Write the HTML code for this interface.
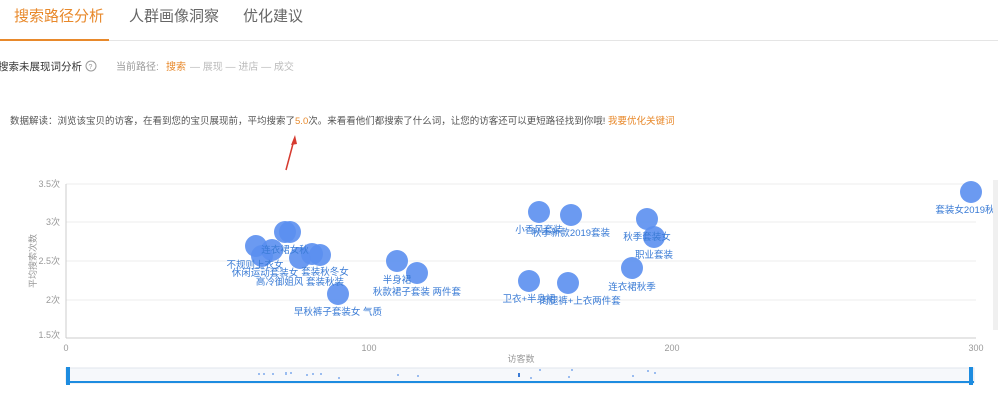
<!DOCTYPE html>
<html><head><meta charset="utf-8"><style>
body{margin:0;width:998px;height:400px;overflow:hidden;background:#fff;font-family:"Liberation Sans","Noto Sans CJK SC",sans-serif;}
</style></head><body>
<svg width="998" height="400" xmlns="http://www.w3.org/2000/svg" font-family="Liberation Sans, Noto Sans CJK SC, sans-serif">
<text x="14" y="21" font-size="15" fill="#e8892b">搜索路径分析</text>
<text x="129" y="21" font-size="15" fill="#666">人群画像洞察</text>
<text x="243" y="21" font-size="15" fill="#666">优化建议</text>
<rect x="0" y="39" width="109" height="2" fill="#e8892b"/>
<rect x="109" y="40" width="889" height="1" fill="#e5e5e5"/>
<text x="-2" y="70" font-size="10.5" fill="#333">搜索未展现词分析</text>
<circle cx="91" cy="66" r="5" fill="none" stroke="#999"/>
<text x="88.5" y="69" font-size="7" fill="#999">?</text>
<text x="116" y="70" font-size="10" fill="#999">当前路径:</text>
<text x="166" y="70" font-size="10" fill="#e8892b">搜索</text>
<text x="190" y="70" font-size="10" fill="#bbb">—  展现  —  进店  —  成交</text>
<text x="10" y="124" font-size="9.5" fill="#555">数据解读：浏览该宝贝的访客，在看到您的宝贝展现前，平均搜索了<tspan fill="#e8892b">5.0</tspan>次。来看看他们都搜索了什么词，让您的访客还可以更短路径找到你哦!   <tspan fill="#e8892b">我要优化关键词</tspan></text>
<path d="M286 170 L294 140" stroke="#d63a2f" stroke-width="1.5"/>
<path d="M295 135 L291 145 L297 144Z" fill="#d63a2f"/>
<g stroke="#eee"><line x1="66" y1="184" x2="976" y2="184"/><line x1="66" y1="222" x2="976" y2="222"/><line x1="66" y1="261" x2="976" y2="261"/><line x1="66" y1="300" x2="976" y2="300"/></g>
<line x1="66" y1="184" x2="66" y2="338" stroke="#ccc"/>
<line x1="66" y1="338" x2="976" y2="338" stroke="#ccc"/>
<g font-size="9" fill="#999" text-anchor="end"><text x="60" y="187">3.5次</text><text x="60" y="225">3次</text><text x="60" y="264">2.5次</text><text x="60" y="303">2次</text><text x="60" y="338">1.5次</text></g>
<g font-size="9" fill="#999" text-anchor="middle"><text x="66" y="351">0</text><text x="369" y="351">100</text><text x="672" y="351">200</text><text x="976" y="351">300</text><text x="521" y="362">访客数</text></g>
<text x="36" y="261" font-size="9" fill="#999" text-anchor="middle" transform="rotate(-90 36 261)">平均搜索次数</text>
<g fill="#5b8ff0" fill-opacity="0.9">
<circle cx="256" cy="246" r="11"/><circle cx="262" cy="256" r="11"/><circle cx="272" cy="250" r="11"/><circle cx="285" cy="232" r="11"/><circle cx="290" cy="232" r="11"/><circle cx="300" cy="258" r="11"/><circle cx="312" cy="254" r="11"/><circle cx="320" cy="255" r="11"/><circle cx="338" cy="294" r="11"/><circle cx="397" cy="261" r="11"/><circle cx="417" cy="273" r="11"/><circle cx="539" cy="212" r="11"/><circle cx="571" cy="215" r="11"/><circle cx="529" cy="281" r="11"/><circle cx="568" cy="283" r="11"/><circle cx="632" cy="268" r="11"/><circle cx="647" cy="219" r="11"/><circle cx="654" cy="237" r="11"/><circle cx="971" cy="192" r="11"/>
</g>
<g font-size="9.5" fill="#3a7bd5" text-anchor="middle">
<text x="255" y="268">不规则上衣女</text><text x="265" y="276">休闲运动套装女</text><text x="285" y="253">连衣裙女秋</text><text x="325" y="275">套装秋冬女</text><text x="300" y="285">高冷御姐风 套装秋装</text><text x="338" y="315">早秋裤子套装女 气质</text><text x="397" y="283">半身裙</text><text x="417" y="295">秋款裙子套装 两件套</text><text x="539" y="233">小香风套装</text><text x="571" y="236">秋季新款2019套装</text><text x="529" y="302">卫衣+半身裙</text><text x="580" y="304">阔腿裤+上衣两件套</text><text x="632" y="290">连衣裙秋季</text><text x="647" y="240">秋季套装女</text><text x="654" y="258">职业套装</text><text x="965" y="213">套装女2019秋</text>
</g>
<rect x="66" y="368" width="908" height="15" fill="#f6f8fb" stroke="#e0e6ee"/>
<rect x="66" y="381" width="908" height="2" fill="#1d8ce0"/>
<rect x="66" y="367" width="4" height="18" fill="#1d8ce0"/><rect x="969" y="367" width="4" height="18" fill="#1d8ce0"/>
<g fill="#9bbdf0"><rect x="258" y="373" width="2" height="2"/><rect x="263" y="373" width="2" height="2"/><rect x="272" y="373" width="2" height="2"/><rect x="285" y="372" width="2" height="3"/><rect x="290" y="372" width="2" height="2"/><rect x="306" y="374" width="2" height="2"/><rect x="312" y="373" width="2" height="2"/><rect x="320" y="373" width="2" height="2"/><rect x="338" y="377" width="2" height="2"/><rect x="397" y="374" width="2" height="2"/><rect x="417" y="375" width="2" height="2"/><rect x="518" y="373" width="2" height="4" fill="#3a7bd5"/><rect x="530" y="377" width="2" height="2"/><rect x="539" y="369" width="2" height="2"/><rect x="568" y="376" width="2" height="2"/><rect x="571" y="369" width="2" height="2"/><rect x="632" y="375" width="2" height="2"/><rect x="647" y="370" width="2" height="2"/><rect x="654" y="372" width="2" height="2"/></g>
<rect x="993" y="180" width="5" height="150" fill="#f0f0f0"/>
</svg>
</body></html>
